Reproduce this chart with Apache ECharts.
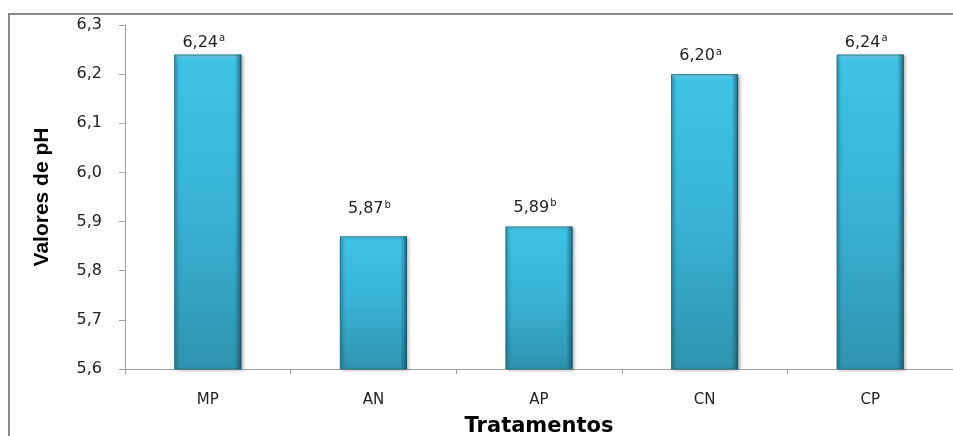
<!DOCTYPE html>
<html>
<head>
<meta charset="utf-8">
<script src="https://cdn.jsdelivr.net/npm/echarts@6/dist/echarts.min.js"></script>
<style>
  html, body { margin: 0; padding: 0; background: #ffffff; }
  #chart { width: 953px; height: 436px; }
</style>
</head>
<body>
<div id="chart"></div>
<script>
// pH por tratamento, com letras de significância
const categories = ['MP', 'AN', 'AP', 'CN', 'CP'];
const phValues = [6.24, 5.87, 5.89, 6.20, 6.24];
const letters = ['a', 'b', 'b', 'a', 'a'];
const yTicks = { min: 5.6, max: 6.3, step: 0.1 };

// afastamento de cada rótulo acima da sua barra (px)
const labelGaps = [3, 18, 10, 9, 3];

const fmt = (v, d) => v.toFixed(d).replace('.', ',');

const chart = echarts.init(document.getElementById('chart'), null, { renderer: 'canvas' });

const bodyGradient = new echarts.graphic.LinearGradient(0, 0, 0, 1, [
  { offset: 0, color: '#6fd3ee' },
  { offset: 0.02, color: '#3ec3e6' },
  { offset: 0.5, color: '#38b2d5' },
  { offset: 1, color: '#2e93ae' }
]);
const edgeGradient = new echarts.graphic.LinearGradient(0, 0, 1, 0, [
  { offset: 0, color: 'rgba(20,80,100,0.35)' },
  { offset: 0.06, color: 'rgba(20,80,100,0.0)' },
  { offset: 0.9, color: 'rgba(20,80,100,0.0)' },
  { offset: 0.97, color: 'rgba(15,60,80,0.45)' },
  { offset: 1, color: 'rgba(10,50,65,0.6)' }
]);

chart.setOption({
  animation: false,
  backgroundColor: '#ffffff',
  graphic: [{
    type: 'rect',
    shape: { x: 9, y: 14, width: 960, height: 440 },
    style: { fill: 'none', stroke: '#8a8a8a', lineWidth: 2 },
    silent: true,
    z: -1
  }],
  grid: { left: 125, right: 0, top: 25, bottom: 67, containLabel: false, outerBoundsMode: 'none' },
  xAxis: {
    type: 'category',
    data: categories,
    name: 'Tratamentos',
    nameLocation: 'middle',
    nameGap: 47,
    nameTextStyle: { fontFamily: 'DejaVu Sans', fontWeight: 'bold', fontSize: 21, color: '#000000' },
    axisLine: { lineStyle: { color: '#a0a0a0', width: 1 } },
    axisTick: { show: true, length: 5, alignWithLabel: false, lineStyle: { color: '#a0a0a0' } },
    axisLabel: { margin: 24, fontFamily: 'DejaVu Sans', fontSize: 15, color: '#222222' }
  },
  yAxis: {
    type: 'value',
    min: yTicks.min,
    max: yTicks.max,
    interval: yTicks.step,
    name: 'Valores de pH',
    nameLocation: 'middle',
    nameGap: 72,
    nameRotate: 90,
    nameTextStyle: { fontFamily: 'Liberation Sans', fontWeight: 'bold', fontSize: 21, color: '#000000' },
    axisLine: { show: true, lineStyle: { color: '#a0a0a0', width: 1 } },
    axisTick: { show: true, length: 6, lineStyle: { color: '#a0a0a0' } },
    splitLine: { show: false },
    axisLabel: {
      margin: 23,
      fontFamily: 'DejaVu Sans',
      fontSize: 16,
      color: '#222222',
      formatter: v => fmt(v, 1)
    }
  },
  series: [
    {
      type: 'bar',
      data: phValues.map((v, i) => ({ value: v, label: { distance: labelGaps[i] } })),
      barWidth: '40.5%',
      itemStyle: {
        color: bodyGradient,
        borderColor: '#247d95',
        borderWidth: 1,
        shadowColor: 'rgba(0,0,0,0.3)',
        shadowBlur: 3,
        shadowOffsetX: 2,
        shadowOffsetY: 1
      },
      label: {
        show: true,
        position: 'top',
        distance: 7,
        offset: [-4, 0],
        formatter: p => '{v|' + fmt(p.value, 2) + '}{s|' + letters[p.dataIndex] + '}',
        rich: {
          v: { fontFamily: 'DejaVu Sans', fontSize: 16, color: '#222222', lineHeight: 18 },
          s: { fontFamily: 'DejaVu Sans', fontSize: 10, color: '#222222', verticalAlign: 'top', lineHeight: 18, padding: [0, 0, 6, 1] }
        }
      },
      z: 2
    },
    {
      // sombreado lateral das barras
      type: 'bar',
      data: phValues,
      barWidth: '40.5%',
      barGap: '-100%',
      silent: true,
      itemStyle: { color: edgeGradient },
      z: 3
    }
  ]
});
</script>
</body>
</html>
